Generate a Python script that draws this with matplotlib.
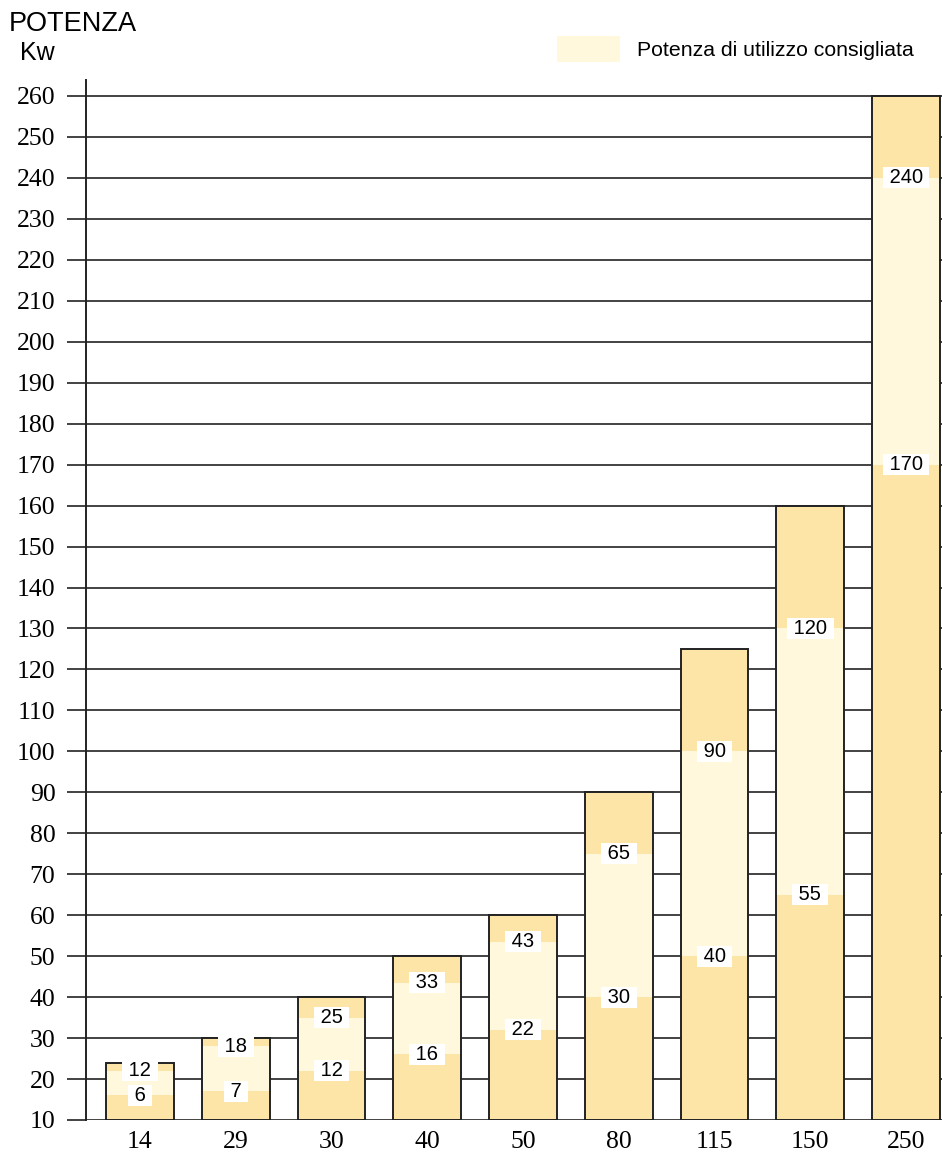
import matplotlib.pyplot as plt
from matplotlib.patches import Patch

# dati
categorie = ['14', '29', '30', '40', '50', '80', '115', '150', '250']
potenza_max = [24, 30, 40, 50, 60, 90, 125, 160, 260]
fascia_bassa = [16, 17, 22, 26, 32, 40, 50, 65, 170]
fascia_alta = [22, 28, 35, 43.5, 53.5, 75, 100, 130, 240]
etichette_basse = ['6', '7', '12', '16', '22', '30', '40', '55', '170']
etichette_alte = ['12', '18', '25', '33', '43', '65', '90', '120', '240']
y_ticks = list(range(10, 261, 10))

scuro = '#fde5a8'
chiaro = '#fff8dc'
base = 10

fig = plt.figure(figsize=(9.42, 11.55), dpi=100)
ax = fig.add_axes([86 / 942, 35 / 1155, 856 / 942, 1040 / 1155])

x = list(range(len(categorie)))
w = 0.71
for i in x:
    ax.bar(i, potenza_max[i] - base, bottom=base, width=w, color=scuro,
           edgecolor='none', zorder=2)
    ax.bar(i, fascia_alta[i] - fascia_bassa[i], bottom=fascia_bassa[i], width=w,
           color=chiaro, edgecolor='none', zorder=3)
    ax.bar(i, potenza_max[i] - base, bottom=base, width=w, fill=False,
           edgecolor='#222222', linewidth=1.4, zorder=4)
    for yy, t in [(fascia_bassa[i], etichette_basse[i]), (fascia_alta[i], etichette_alte[i])]:
        ax.text(i, yy, ' ' + t + ' ', ha='center', va='center', fontsize=14.5,
                family='Liberation Sans', zorder=5,
                bbox=dict(boxstyle='square,pad=0.05', fc='white', ec='none'))

ax.set_xlim(-0.564, 8.376)
ax.set_ylim(10, 263.9)
ax.set_yticks(y_ticks)
ax.set_yticklabels([str(v) for v in y_ticks], family='Liberation Serif', fontsize=18.5)
ax.set_xticks(x)
ax.set_xticklabels(categorie, family='Liberation Serif', fontsize=18.5)
ax.tick_params(axis='x', length=0, pad=8)
ax.tick_params(axis='y', length=14, width=1.2, color='#222222', pad=8)
ax.yaxis.grid(True, color='#222222', linewidth=1.2, zorder=1)
ax.set_axisbelow(True)
for s in ['top', 'right', 'bottom']:
    ax.spines[s].set_visible(False)
ax.spines['left'].set_linewidth(1.4)
ax.spines['left'].set_color('#222222')

fig.text(9 / 942, 1 - 24 / 1155, 'POTENZA', family='Liberation Sans', fontsize=19.5,
         va='center', ha='left')
fig.text(20 / 942, 1 - 53 / 1155, 'Kw', family='Liberation Sans', fontsize=18,
         va='center', ha='left')

leg = fig.legend(handles=[Patch(facecolor=chiaro, edgecolor='none')],
                 labels=['Potenza di utilizzo consigliata'],
                 loc='center left', bbox_to_anchor=(557 / 942, 1 - 49 / 1155),
                 frameon=False, borderpad=0, borderaxespad=0,
                 handlelength=2.95, handleheight=1.45, handletextpad=0.8,
                 prop={'family': 'Liberation Sans', 'size': 15.3})

fig.savefig('out.png', dpi=100)
